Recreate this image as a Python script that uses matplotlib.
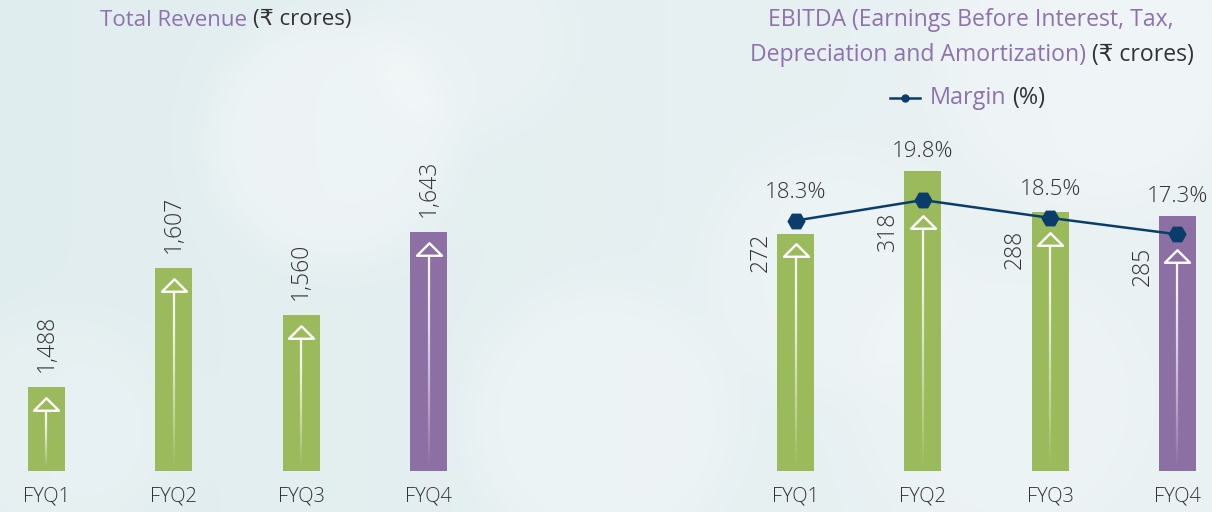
import numpy as np
import matplotlib
matplotlib.use("Agg")
import matplotlib.pyplot as plt
from matplotlib.path import Path
from matplotlib.collections import LineCollection
from matplotlib.lines import Line2D

plt.rcParams['font.family'] = ['Open Sans', 'DejaVu Sans']

# data
quarters = ["FYQ1", "FYQ2", "FYQ3", "FYQ4"]
revenue = [1488, 1607, 1560, 1643]
ebitda = [272, 318, 288, 285]
margin = [18.3, 19.8, 18.5, 17.3]

GREEN = "#9BBA5B"
PURPLE_BAR = "#8C70A4"
PURPLE_TXT = "#8E72AD"
NAVY = "#0B3D6B"
DARK = "#333333"
bar_colors = [GREEN, GREEN, GREEN, PURPLE_BAR]
NUM_WEIGHT = 'light'

W, H = 1212, 512
fig = plt.figure(figsize=(W / 100, H / 100), dpi=100)

# soft bokeh-like background
yy, xx = np.mgrid[0:H, 0:W]
t = (xx / W)[..., None]
img = np.array([0.88, 0.93, 0.935]) * (1 - t) + np.array([0.92, 0.948, 0.955]) * t
glow = np.zeros((H, W))
for cx, cy, r, k in [(330, 140, 120, 0.55), (600, 420, 130, 0.45), (830, 270, 120, 0.35),
                     (1090, 60, 150, 0.45), (60, 430, 110, 0.3), (470, 40, 90, 0.3),
                     (1000, 400, 140, 0.3)]:
    d = np.hypot(xx - cx, yy - cy)
    glow += k / (1 + np.exp((d - r) / 12))
glow = np.clip(glow, 0, 1)[..., None]
img = img * (1 - glow) + np.array([0.965, 0.975, 0.98]) * glow
bg = fig.add_axes([0, 0, 1, 1], zorder=-10)
bg.imshow(img, extent=[0, 1, 0, 1], aspect='auto')
bg.axis('off')

renderer = fig.canvas.get_renderer()


def rich_line(parts, x, y, size, align='center', gap=6):
    texts = [fig.text(0, 1 - y / H, s, color=c, fontsize=size, ha='left', va='center')
             for s, c in parts]
    widths = [tx.get_window_extent(renderer).width for tx in texts]
    total = sum(widths) + gap * (len(texts) - 1)
    left = x - total / 2 if align == 'center' else x
    for tx, w in zip(texts, widths):
        tx.set_x(left / W)
        left += w + gap


tri = Path([(-1, -0.5), (0, 0.5), (1, -0.5), (-1, -0.5)],
           [Path.MOVETO, Path.LINETO, Path.LINETO, Path.CLOSEPOLY])


def draw_arrows(ax, values, apex_px=None):
    # apex_px: display y of the arrow tip, default 10 px under the bar top
    lo, hi = ax.get_ylim()
    ppu = ax.bbox.height / (hi - lo)
    for i, v in enumerate(values):
        tip = v - 10 / ppu
        if apex_px is not None:
            tip = ax.transData.inverted().transform((0, apex_px[i]))[1]
        ax.plot(i, tip - 6.5 / ppu, marker=tri, ms=18, mfc='none', mec='white',
                mew=1.7, zorder=4)
        ys = np.linspace(tip - 13 / ppu, lo + 3 / ppu, 60)
        segs = [[(i, ys[k]), (i, ys[k + 1])] for k in range(len(ys) - 1)]
        s = np.linspace(0, 1, len(segs))
        alphas = 0.95 * (1 - s ** 1.4)
        ax.add_collection(LineCollection(segs, colors=[(1, 1, 1, a) for a in alphas],
                                         linewidths=1.6, zorder=3))


def clean(ax):
    ax.set_facecolor('none')
    for s in ax.spines.values():
        s.set_visible(False)
    ax.set_yticks([])
    ax.tick_params(axis='x', length=0, pad=11, labelsize=14.5, labelcolor=DARK)
    for lab in ax.get_xticklabels():
        lab.set_fontweight(NUM_WEIGHT)


# ---- Total revenue ----
axL = fig.add_axes([0, 41 / H, 475 / W, 471 / H])
axL.set_xlim(-0.365, 3.365)
axL.set_ylim(1404, 1875)
axL.bar(range(4), revenue, width=0.29, color=bar_colors, zorder=2)
axL.set_xticks(range(4), quarters)
clean(axL)
draw_arrows(axL, revenue)
for i, v in enumerate(revenue):
    axL.annotate(f"{v:,}", (i, v), xytext=(0, 11), textcoords='offset points',
                 ha='center', va='bottom', rotation=90, fontsize=16.5, color=DARK,
                 fontweight=NUM_WEIGHT)

rich_line([("Total Revenue", PURPLE_TXT), ("(₹ crores)", DARK)], 226, 20, 16)

# ---- EBITDA ----
axR = fig.add_axes([740 / W, 41 / H, 472 / W, 471 / H])
axR.set_xlim(-0.436, 3.271)
axR.set_ylim(99, 99 + 471 / 1.3696)
axR.bar(range(4), ebitda, width=0.29, color=bar_colors, zorder=2)
axR.set_xticks(range(4), quarters)
clean(axR)

axM = axR.twinx()
axM.set_ylim(0.03, 34.4)
axM.set_facecolor('none')
for s in axM.spines.values():
    s.set_visible(False)
axM.set_yticks([])
axM.plot(range(4), margin, color=NAVY, lw=1.8, marker='H', ms=12, zorder=5)

# arrows sit below both the bar top and the margin marker
tips = [min(axR.transData.transform((i, v))[1] - 9, axM.transData.transform((i, m))[1] - 15)
        for i, (v, m) in enumerate(zip(ebitda, margin))]
draw_arrows(axR, ebitda, tips)

for i, (v, m) in enumerate(zip(ebitda, margin)):
    bar_top = axR.transData.transform((i, v))[1]
    pt = axM.transData.transform((i, m))[1]
    if bar_top > pt + 9:
        axR.annotate(f"{m}%", (i, v), xytext=(0, 20 * 0.72), textcoords='offset points',
                     ha='center', va='center', fontsize=16, color=DARK, fontweight=NUM_WEIGHT)
    else:
        axM.annotate(f"{m}%", (i, m), xytext=(0, 28 * 0.72), textcoords='offset points',
                     ha='center', va='center', fontsize=16, color=DARK, fontweight=NUM_WEIGHT)
    axM.annotate(f"{v}", (i, m), xytext=(-35 * 0.72, -12 * 0.72), textcoords='offset points',
                 ha='center', va='top', rotation=90, fontsize=16.5, color=DARK,
                 fontweight=NUM_WEIGHT)

rich_line([("EBITDA (Earnings Before Interest, Tax,", PURPLE_TXT)], 971, 20, 16.6)
rich_line([("Depreciation and Amortization)", PURPLE_TXT), ("(₹ crores)", DARK)], 972, 55, 16.6)

# legend
fig.add_artist(Line2D([890 / W, 920 / W], [1 - 98 / H] * 2, color=NAVY, lw=1.8))
fig.add_artist(Line2D([905 / W], [1 - 98 / H], color=NAVY, marker='o', ms=5))
rich_line([("Margin", PURPLE_TXT), ("(%)", DARK)], 930, 98, 16.8, align='left')

fig.savefig("out.png", dpi=100)
